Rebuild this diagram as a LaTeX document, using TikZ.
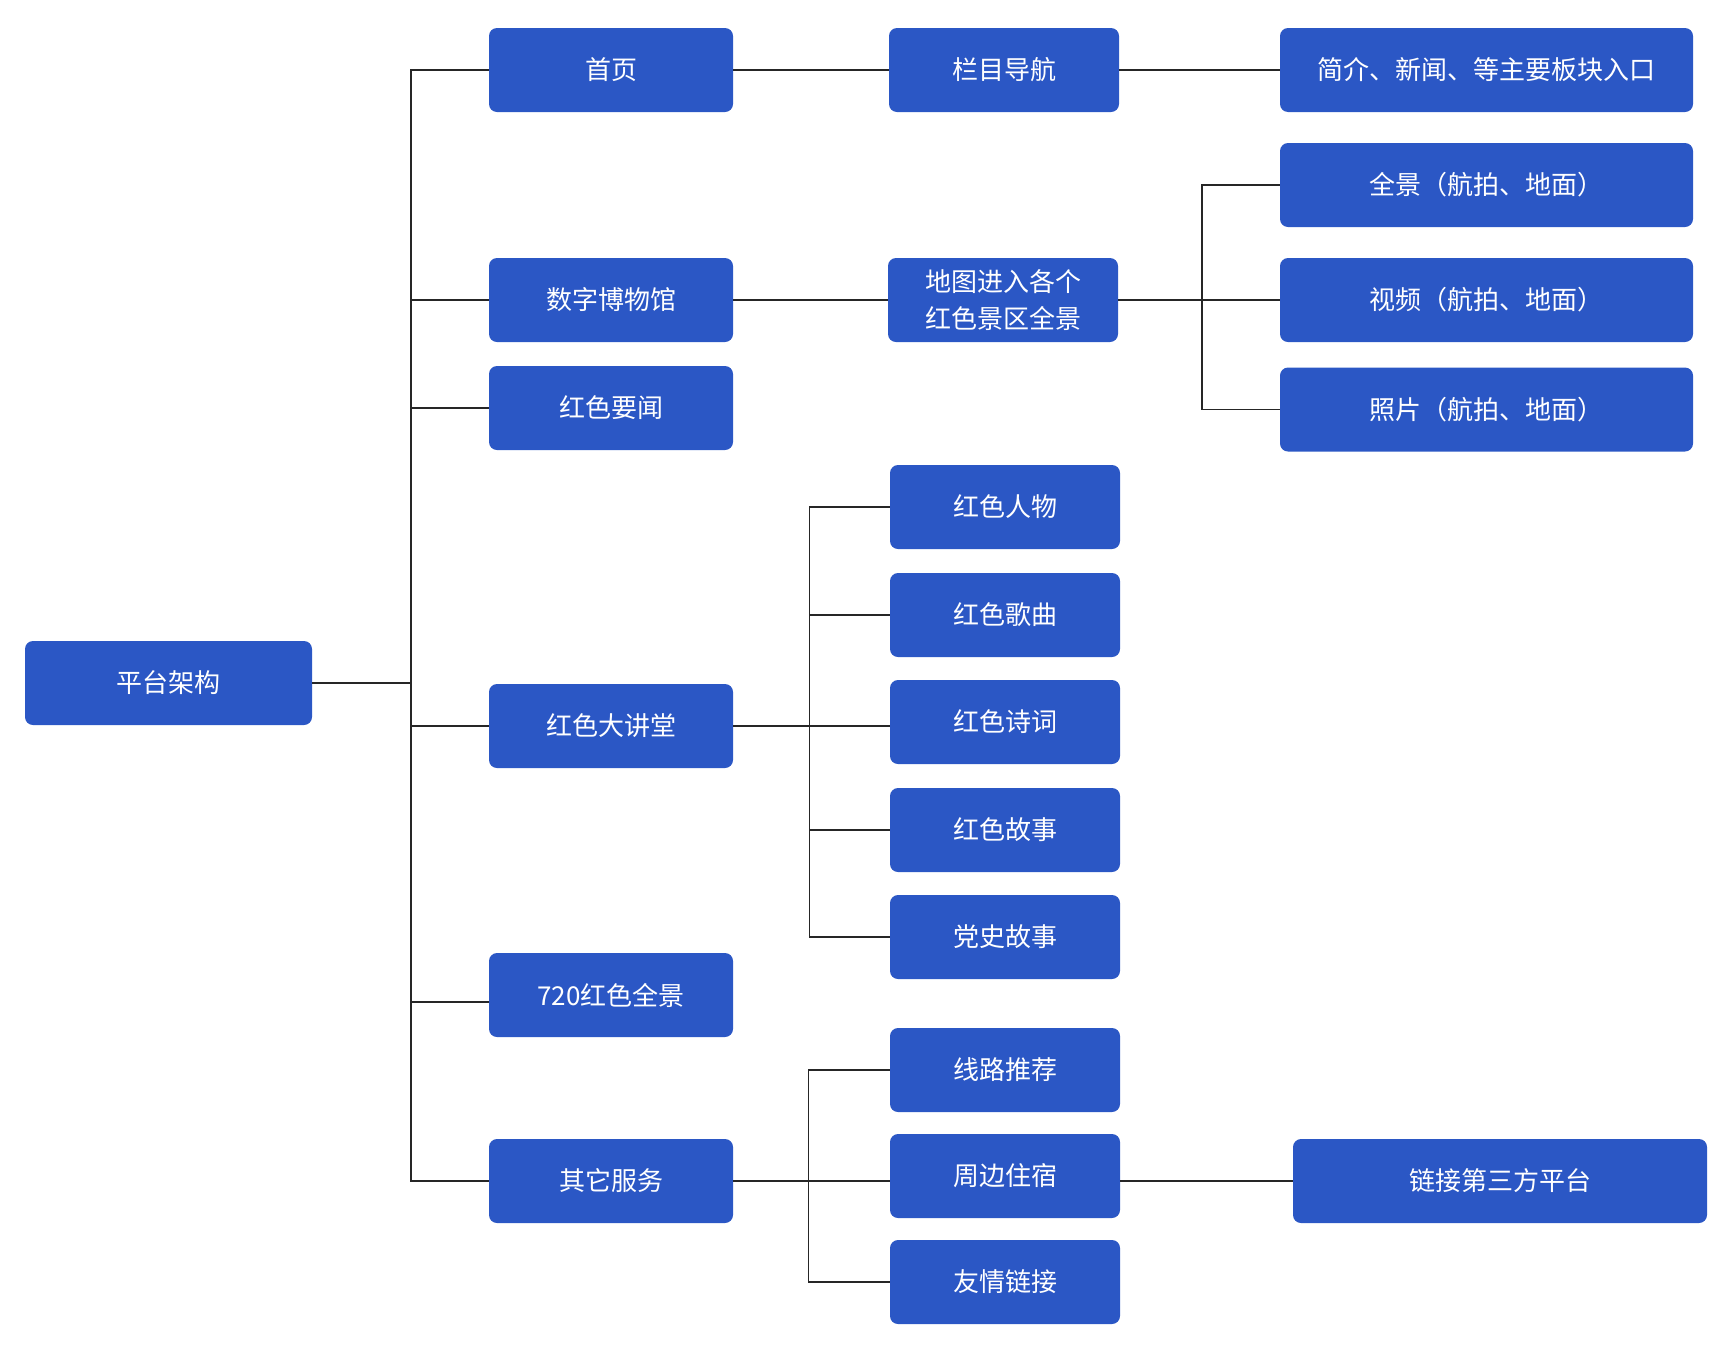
\documentclass[tikz,border=0pt]{standalone}
\usepackage{fontspec}
\setmainfont{Noto Sans CJK SC}
\definecolor{boxblue}{HTML}{2B57C5}
\tikzset{
  box/.style={draw=none, fill=boxblue, rounded corners=4pt, text=white, inner sep=0pt,
    minimum height=42pt, align=center, font=\fontsize{13}{18.3}\selectfont},
  rootbox/.style={box, minimum width=143.5pt},
  lonebox/.style={box, minimum width=122pt},
  ltwobox/.style={box, minimum width=115pt},
  lthreebox/.style={box, minimum width=206.5pt},
  conn/.style={draw=black!85, line width=0.75pt}
}
\begin{document}
\begin{tikzpicture}[x=0.5pt,y=-0.5pt]
\useasboundingbox (0,0) rectangle (1732,1350);
% root
\node[rootbox] (root) at (168.5,683) {平台架构};
% level 1
\node[lonebox] (home) at (611,70) {首页};
\node[lonebox] (museum) at (611,300) {数字博物馆};
\node[lonebox] (news) at (611,408) {红色要闻};
\node[lonebox] (lecture) at (611,726) {红色大讲堂};
\node[lonebox] (pano) at (611,995) {720红色全景};
\node[lonebox] (other) at (611,1181) {其它服务};
% level 2
\node[ltwobox] (nav) at (1004,70) {栏目导航};
\node[ltwobox] (map) at (1003,300) {地图进入各个\\红色景区全景};
\node[ltwobox] (people) at (1005,507) {红色人物};
\node[ltwobox] (songs) at (1005,615) {红色歌曲};
\node[ltwobox] (poems) at (1005,722) {红色诗词};
\node[ltwobox] (stories) at (1005,830) {红色故事};
\node[ltwobox] (party) at (1005,937) {党史故事};
\node[ltwobox] (route) at (1005,1070) {线路推荐};
\node[ltwobox] (hotel) at (1005,1176) {周边住宿};
\node[ltwobox] (links) at (1005,1282) {友情链接};
% level 3
\node[lthreebox] (intro) at (1486.5,70) {简介、新闻、等主要板块入口};
\node[lthreebox] (qj) at (1486.5,185) {全景（航拍、地面）};
\node[lthreebox] (video) at (1486.5,300) {视频（航拍、地面）};
\node[lthreebox] (photo) at (1486.5,409.5) {照片（航拍、地面）};
\node[box, minimum width=207pt] (third) at (1500,1181) {链接第三方平台};
% junctions
\coordinate (j1) at (411,683);
\coordinate (j2) at (809.5,726);
\coordinate (j3) at (808.5,1181);
\coordinate (j4) at (1202,300);
\coordinate (pj) at (411,1002);
% connectors
\draw[conn] (root.east) -- (j1);
\foreach \n in {home,museum,news,lecture,other} {
  \draw[conn] (j1) |- (\n.west);
}
\draw[conn] (j1) -- (pj) -- (pj -| pano.west);
\draw[conn] (home.east) -- (nav.west);
\draw[conn] (nav.east) -- (intro.west);
\draw[conn] (museum.east) -- (map.west);
\draw[conn] (map.east) -- (j4);
\foreach \n in {qj,video,photo} {
  \draw[conn] (j4) |- (\n.west);
}
\draw[conn] (lecture.east) -- (j2) -- (j2 -| poems.west);
\foreach \n in {people,songs,stories,party} {
  \draw[conn] (j2) |- (\n.west);
}
\draw[conn] (other.east) -- (j3) -- (j3 -| hotel.west);
\foreach \n in {route,links} {
  \draw[conn] (j3) |- (\n.west);
}
\draw[conn] (j3 -| hotel.east) -- (third.west);
\end{tikzpicture}
\end{document}
